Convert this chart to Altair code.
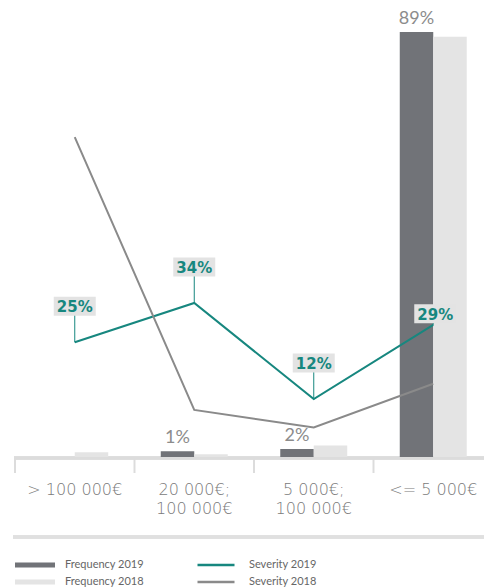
import altair as alt
import pandas as pd

# ---- data ----
categories = ["> 100 000€", "20 000€; 100 000€", "5 000€; 100 000€", "<= 5 000€"]
freq_series = ["Frequency 2019", "Frequency 2018"]
sev_series = ["Severity 2019", "Severity 2018"]
freq_2019 = [0, 1.2, 1.7, 89]
freq_2018 = [1.0, 0.6, 2.4, 88]
sev_2019 = [25, 34, 12, 29]
sev_2018 = [72, 9.5, 5.5, 15.5]

freq_df = pd.DataFrame({
    "cat": categories * 2,
    "series": [freq_series[0]] * 4 + [freq_series[1]] * 4,
    "value": freq_2019 + freq_2018,
})
sev_df = pd.DataFrame({
    "cat": categories * 2,
    "series": [sev_series[0]] * 4 + [sev_series[1]] * 4,
    "value": sev_2019 + sev_2018,
})
cat_df = pd.DataFrame({"cat": categories})

# ---- styles ----
TEAL = "#17877f"
GRAY_LINE = "#8a8a8a"
DARK_BAR = "#717378"
LIGHT_BAR = "#e4e4e4"
AXIS_GRAY = "#dcdcdc"
TEXT_GRAY = "#8c8c8c"
BOX = "M-1,-0.45L1,-0.45L1,0.45L-1,0.45Z"
SWATCH = "M-1,-0.125L1,-0.125L1,0.125L-1,0.125Z"

label_expr = (
    "indexof(datum.label, ';') > 0 ? "
    "[slice(datum.label, 0, indexof(datum.label, ';') + 1), "
    "slice(datum.label, indexof(datum.label, ';') + 2)] : datum.label"
)

x_axis = alt.Axis(
    title=None, domain=False, ticks=True, tickSize=16, tickColor="transparent",
    labelFont="DejaVu Sans", labelFontWeight=300,
    labelFontSize=16, labelColor="#7a7a7a", labelPadding=8, labelAngle=0,
    labelLineHeight=19, labelExpr=label_expr, labelOverlap=False, grid=False,
)
x_scale = alt.Scale(domain=categories, range=[0, 478], paddingInner=0, paddingOuter=0)
X = alt.X("cat:N", sort=categories, scale=x_scale, axis=x_axis)

Y_bar = alt.Y("value:Q", scale=alt.Scale(domain=[0, 95.7], nice=False), axis=None)
Y_line = alt.Y("value:Q", scale=alt.Scale(domain=[-1.28, 103.4], nice=False, zero=False), axis=None)

XO = alt.XOffset("series:N", sort=freq_series,
                 scale=alt.Scale(domain=freq_series, paddingInner=0, paddingOuter=0.784))

bars = alt.Chart(freq_df).mark_bar().encode(
    x=X, xOffset=XO, y=Y_bar,
    color=alt.Color("series:N", sort=freq_series,
                    scale=alt.Scale(domain=freq_series, range=[DARK_BAR, LIGHT_BAR]),
                    legend=alt.Legend(
                        title=None, orient="none", legendX=0, legendY=557,
                        direction="vertical", symbolType=SWATCH, symbolSize=1600,
                        symbolStrokeWidth=0, clipHeight=16, rowPadding=1,
                        labelFont="Lato", labelFontSize=11, labelColor="#666666",
                        labelOffset=10, padding=0)),
)

bar_labels = alt.Chart(freq_df).transform_filter(
    (alt.datum.series == freq_series[0]) & (alt.datum.value > 0.5)
).transform_calculate(
    label="format(datum.value, '.0f') + '%'"
).mark_text(baseline="bottom", dy=-4, font="Lato", fontSize=18, color=TEXT_GRAY).encode(
    x=X, xOffset=XO, y=Y_bar, text="label:N",
)

bar_layer = alt.layer(bars, bar_labels)

lines = alt.Chart(sev_df).mark_line(strokeWidth=2).encode(
    x=X, y=Y_line,
    color=alt.Color("series:N", sort=sev_series,
                    scale=alt.Scale(domain=sev_series, range=[TEAL, GRAY_LINE]),
                    legend=alt.Legend(
                        title=None, orient="none", legendX=181, legendY=557,
                        direction="vertical", symbolType="stroke", symbolSize=1369,
                        symbolStrokeWidth=2.5, clipHeight=16, rowPadding=1,
                        labelFont="Lato", labelFontSize=11, labelColor="#666666",
                        labelOffset=13, padding=0)),
)


def value_labels(last, dy, dx):
    cond = (alt.datum.cat == categories[-1]) if last else (alt.datum.cat != categories[-1])
    base = alt.Chart(sev_df).transform_filter(
        (alt.datum.series == sev_series[0]) & cond
    ).transform_calculate(label="datum.value + '%'")
    rule = base.mark_rule(color=TEAL, strokeWidth=1, y2Offset=dy).encode(
        x=X, y=Y_line, y2="value:Q")
    box = base.mark_point(shape=BOX, size=1764, filled=True, color="#e3e3e3",
                          opacity=1, strokeWidth=0, yOffset=dy, xOffset=dx).encode(x=X, y=Y_line)
    txt = base.mark_text(font="DejaVu Sans", fontWeight="bold", fontSize=15, color=TEAL,
                         baseline="middle", yOffset=dy + 1, xOffset=dx).encode(
        x=X, y=Y_line, text="label:N")
    return [rule, box, txt]


line_layer = alt.layer(lines, *value_labels(False, -36, 0), *value_labels(True, -11, 2))

# baseline, category separators and the legend separator
base_line = alt.Chart(cat_df).mark_rule(color=AXIS_GRAY, strokeWidth=3).encode(
    x=alt.value(-1), x2=alt.value(469), y=alt.value(458))
cat_ticks = alt.Chart(cat_df).mark_rule(color=AXIS_GRAY, strokeWidth=2).encode(
    x=alt.X("cat:N", sort=categories, scale=x_scale, axis=x_axis, bandPosition=0),
    y=alt.value(458), y2=alt.value(473))
separator = alt.Chart(cat_df).mark_rule(color="#e0e0e0", strokeWidth=3).encode(
    x=alt.value(-2), x2=alt.value(469), y=alt.value(537))

chart = alt.layer(base_line, cat_ticks, bar_layer, line_layer, separator).resolve_scale(
    y="independent", color="independent"
).resolve_legend(color="independent").properties(
    width=469, height=457,
    autosize=alt.AutoSizeParams(type="none"),
    padding={"left": 15, "top": 0, "right": 0, "bottom": 131},
).configure_view(stroke=None)

chart.save("out.html", embed_options={"renderer": "svg", "actions": False})
